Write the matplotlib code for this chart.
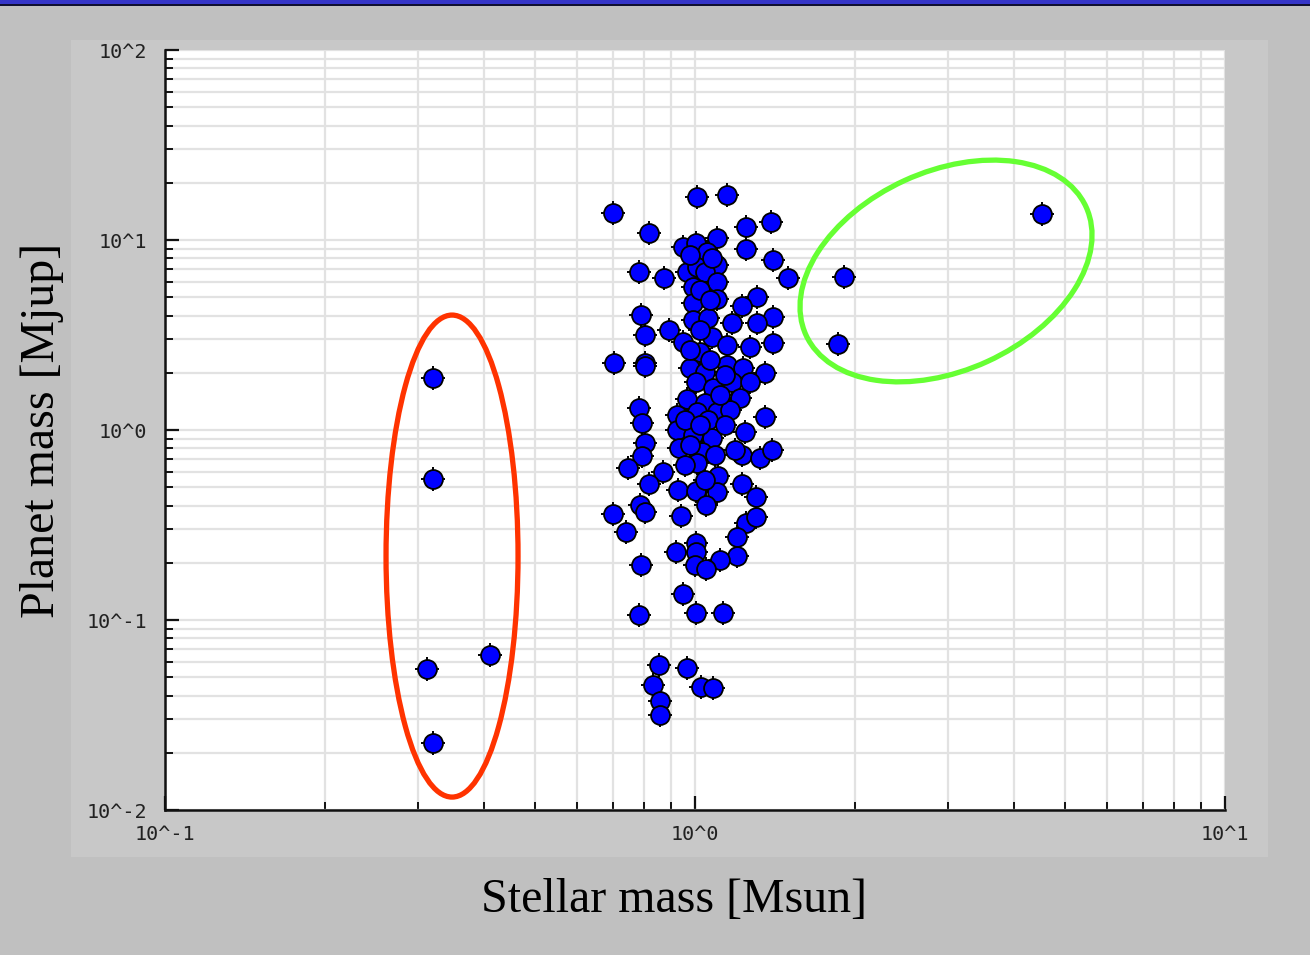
import numpy as np
import matplotlib.pyplot as plt
from matplotlib.patches import Ellipse, Rectangle
from matplotlib.transforms import ScaledTranslation
from matplotlib.ticker import FixedLocator, FixedFormatter, LogLocator, NullFormatter

# stellar mass [Msun] and planet mass [Mjup]
low_mass_star = [0.320, 0.320, 0.312, 0.410, 0.320]
low_mass_planet = [1.88, 0.552, 0.0552, 0.0654, 0.0225]

high_mass_star = [4.52, 1.91, 1.86]
high_mass_planet = [13.7, 6.39, 2.84]

sun_like_star = [
    0.700, 1.009, 1.149, 0.819, 1.248, 1.391, 1.248, 1.404, 1.498, 0.949,
    1.004, 1.100, 1.054, 1.100, 0.966, 1.009, 1.044, 0.784, 0.874, 1.100,
    0.991, 1.100, 1.309, 1.226, 0.991, 1.404, 0.791, 0.991, 1.058, 1.174,
    1.309, 0.805, 0.893, 0.949, 1.077, 1.149, 1.270, 1.404, 1.022,
    0.703, 0.805, 0.978, 1.044, 1.149, 1.232, 1.355, 1.004, 1.174, 1.270,
    1.081, 0.966, 1.216, 1.044, 0.784, 0.925, 1.009, 1.100, 1.164, 1.355,
    0.794, 1.058, 0.925, 0.991, 1.077, 1.243, 0.805, 0.933, 1.031, 1.226,
    1.327, 1.397, 0.794, 0.747, 0.870, 1.009, 1.105,
    0.819, 0.929, 1.004, 1.100, 1.226, 1.049, 1.303, 0.788, 0.805, 0.700,
    0.941, 1.248, 1.303, 0.741, 1.200, 1.004, 0.921, 1.004, 1.200, 1.115,
    1.000, 1.049, 0.791, 0.949, 0.784, 1.004, 1.129, 0.855, 0.966, 0.833,
    1.026, 1.081, 0.859, 0.859,
    1.022, 0.978, 1.067, 1.115, 0.957, 1.022, 0.978, 1.091, 1.139, 1.044,
    0.957, 1.022, 1.067, 0.978, 1.077, 1.139, 1.190, 0.805,
]
sun_like_planet = [
    13.87, 16.84, 17.25, 10.89, 11.70, 12.44, 8.97, 7.85, 6.31, 9.19,
    9.64, 10.24, 8.65, 7.39, 6.79, 7.21, 6.79, 6.79, 6.31, 6.01,
    5.66, 4.89, 5.01, 4.49, 4.66, 3.93, 4.03, 3.79, 3.89, 3.66,
    3.66, 3.16, 3.36, 2.91, 3.09, 2.80, 2.73, 2.87, 2.57,
    2.25, 2.25, 2.12, 2.02, 2.20, 2.12, 2.00, 1.79, 1.79, 1.79,
    1.66, 1.46, 1.47, 1.39, 1.31, 1.20, 1.24, 1.24, 1.27, 1.17,
    1.09, 1.13, 1.00, 0.941, 0.908, 0.976, 0.854, 0.804, 0.766, 0.739,
    0.712, 0.785, 0.730, 0.631, 0.601, 0.671, 0.573,
    0.520, 0.483, 0.478, 0.472, 0.520, 0.403, 0.444, 0.403, 0.370, 0.361,
    0.353, 0.324, 0.349, 0.290, 0.273, 0.254, 0.228, 0.228, 0.217, 0.207,
    0.195, 0.186, 0.195, 0.137, 0.106, 0.109, 0.109, 0.0580, 0.0559, 0.0455,
    0.0444, 0.0439, 0.0375, 0.0316,
    3.36, 2.64, 2.34, 1.53, 1.13, 1.06, 0.834, 0.739, 1.06, 0.545,
    0.654, 5.45, 4.83, 8.34, 8.04, 1.95, 0.785, 2.16,
]

x_ticks = [0.1, 1, 10]
x_tick_labels = ['10^-1', '10^0', '10^1']
y_ticks = [0.01, 0.1, 1, 10, 100]
y_tick_labels = ['10^-2', '10^-1', '10^0', '10^1', '10^2']

W, H = 1310, 955
fig = plt.figure(figsize=(W / 100, H / 100), dpi=100, facecolor='#c0c0c0')

# slide header bar and the lighter panel behind the plot
fig.patches.append(Rectangle((0, 1 - 4 / H), 1, 4 / H, transform=fig.transFigure,
                             facecolor='#3535c8', edgecolor='none', zorder=-2))
fig.patches.append(Rectangle((0, 1 - 6 / H), 1, 2 / H, transform=fig.transFigure,
                             facecolor='#101030', edgecolor='none', zorder=-2))
fig.patches.append(Rectangle((71 / W, 1 - 857 / H), 1197 / W, 817 / H,
                             transform=fig.transFigure, facecolor='#c8c8c8',
                             edgecolor='none', zorder=-2))

ax = fig.add_axes([165 / W, 1 - 810 / H, 1060 / W, 760 / H])
ax.set_facecolor('white')
ax.set_xscale('log')
ax.set_yscale('log')
ax.set_xlim(0.1, 10)
ax.set_ylim(0.01, 100)

ax.xaxis.set_major_locator(FixedLocator(x_ticks))
ax.xaxis.set_major_formatter(FixedFormatter(x_tick_labels))
ax.yaxis.set_major_locator(FixedLocator(y_ticks))
ax.yaxis.set_major_formatter(FixedFormatter(y_tick_labels))
for axis in (ax.xaxis, ax.yaxis):
    axis.set_minor_locator(LogLocator(base=10, subs=np.arange(2, 10), numticks=20))
    axis.set_minor_formatter(NullFormatter())

ax.grid(True, which='both', color='#e2e2e2', linewidth=1.6, zorder=0)
ax.set_axisbelow(True)

for side in ('top', 'right'):
    ax.spines[side].set_visible(False)
for side in ('left', 'bottom'):
    ax.spines[side].set_linewidth(1.8)
    ax.spines[side].set_color('#111111')

ax.tick_params(which='major', direction='in', length=10, width=1.6, color='#111111',
               labelsize=14.5, labelfontfamily='DejaVu Sans Mono', labelcolor='#222222')
ax.tick_params(which='minor', direction='in', length=6, width=1.4, color='#111111')
ax.tick_params(axis='x', which='major', pad=11)
ax.tick_params(axis='y', which='major', pad=13)

all_star = low_mass_star + sun_like_star + high_mass_star
all_planet = low_mass_planet + sun_like_planet + high_mass_planet

# spiky marker: black cross under a blue disc
ax.scatter(all_star, all_planet, s=17 ** 2, marker='+', color='black',
           linewidths=1.4, zorder=3, clip_on=False)
ax.scatter(all_star, all_planet, s=13.6 ** 2, marker='o', facecolor='#0000ff',
           edgecolor='black', linewidths=1.3, zorder=4, clip_on=False)

# ellipses sized in inches, centred in data coordinates
def ring(cx, cy, w, h, angle, color):
    e = Ellipse((0, 0), w, h, angle=angle, fill=False, edgecolor=color,
                linewidth=3.8,
                transform=fig.dpi_scale_trans + ScaledTranslation(cx, cy, ax.transData))
    e.set_clip_on(False)
    e.set_zorder(5)
    ax.add_artist(e)

ring(0.348, 0.217, 1.32, 4.82, 0, '#ff3300')
ring(2.976, 6.87, 3.08, 1.99, 24.6, '#66ff33')

fig.text(674 / W, 1 - 900 / H, 'Stellar mass [Msun]', ha='center', va='center',
         family='Liberation Serif', fontsize=34.5, color='black')
fig.text(42 / W, 1 - 430 / H, 'Planet mass [Mjup]', ha='center', va='center',
         rotation=90, family='Liberation Serif', fontsize=34.5, color='black')

fig.savefig('out.png', dpi=100, facecolor=fig.get_facecolor())
